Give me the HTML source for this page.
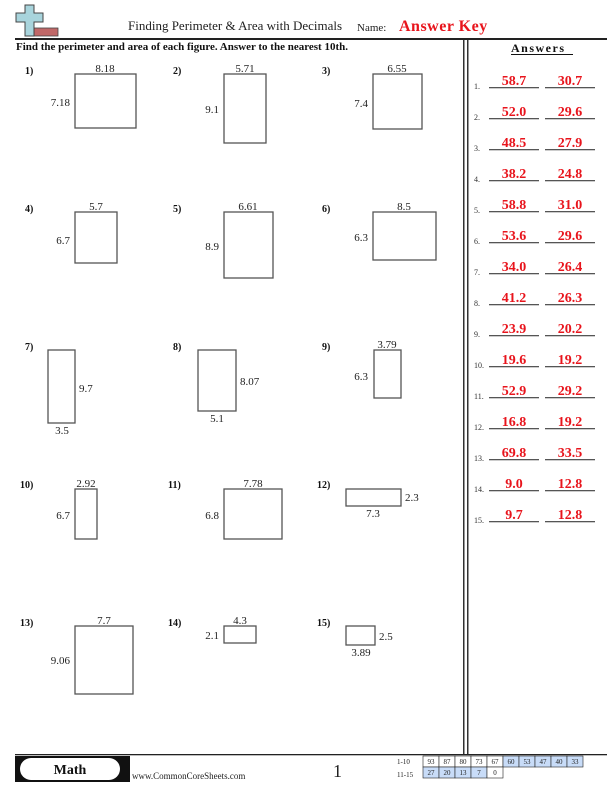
<!DOCTYPE html>
<html><head><meta charset="utf-8"><style>
body{margin:0;width:612px;height:792px;background:#fff;overflow:hidden}
svg{display:block}
text{font-family:"Liberation Serif",serif}
</style></head><body>
<svg width="612" height="792" viewBox="0 0 612 792" xmlns="http://www.w3.org/2000/svg">
<!-- logo -->
<rect x="32" y="28" width="26" height="8" fill="#c06868" stroke="#444" stroke-width="0.8"/>
<path d="M25 5 h9 v8 h9 v9 h-9 v14 h-9 v-14 h-9 v-9 h9z" fill="#a8d4dc" stroke="#444" stroke-width="1"/>
<text x="128" y="30" font-size="13" fill="#222">Finding Perimeter &amp; Area with Decimals</text>
<text x="357" y="31" font-size="11" fill="#222">Name:</text>
<text x="399" y="31" font-size="16" font-weight="bold" fill="#e8141c" letter-spacing="0.5">Answer Key</text>
<rect x="15" y="38" width="592" height="2" fill="#222"/>
<text x="16" y="50" font-size="11" font-weight="bold" fill="#111">Find the perimeter and area of each figure. Answer to the nearest 10th.</text>
<rect x="463" y="40" width="1.5" height="715" fill="#333"/>
<rect x="467" y="40" width="1.5" height="715" fill="#333"/>
<text x="511" y="52" font-size="12" font-weight="bold" fill="#111" letter-spacing="1.5">Answers</text>
<rect x="511" y="54" width="62" height="1" fill="#111"/>
<g font-size="10" font-weight="bold" fill="#111">
<text x="25" y="74">1)</text><text x="173" y="74">2)</text><text x="322" y="74">3)</text>
<text x="25" y="212">4)</text><text x="173" y="212">5)</text><text x="322" y="212">6)</text>
<text x="25" y="350">7)</text><text x="173" y="350">8)</text><text x="322" y="350">9)</text>
<text x="20" y="488">10)</text><text x="168" y="488">11)</text><text x="317" y="488">12)</text>
<text x="20" y="626">13)</text><text x="168" y="626">14)</text><text x="317" y="626">15)</text>
</g>
<g fill="none" stroke="#555" stroke-width="1.3">
<rect x="75" y="74" width="61" height="54"/>
<rect x="224" y="74" width="42" height="69"/>
<rect x="373" y="74" width="49" height="55"/>
<rect x="75" y="212" width="42" height="51"/>
<rect x="224" y="212" width="49" height="66"/>
<rect x="373" y="212" width="63" height="48"/>
<rect x="48" y="350" width="27" height="73"/>
<rect x="198" y="350" width="38" height="61"/>
<rect x="374" y="350" width="27" height="48"/>
<rect x="75" y="489" width="22" height="50"/>
<rect x="224" y="489" width="58" height="50"/>
<rect x="346" y="489" width="55" height="17"/>
<rect x="75" y="626" width="58" height="68"/>
<rect x="224" y="626" width="32" height="17"/>
<rect x="346" y="626" width="29" height="19"/>
</g>
<g font-size="11" fill="#222">
<g text-anchor="middle">
<text x="105" y="72">8.18</text><text x="245" y="72">5.71</text><text x="397" y="72">6.55</text>
<text x="96" y="210">5.7</text><text x="248" y="210">6.61</text><text x="404" y="210">8.5</text>
<text x="62" y="434">3.5</text><text x="217" y="422">5.1</text><text x="387" y="348">3.79</text>
<text x="86" y="487">2.92</text><text x="253" y="487">7.78</text><text x="373" y="517">7.3</text>
<text x="104" y="624">7.7</text><text x="240" y="624">4.3</text><text x="361" y="656">3.89</text>
</g>
<g text-anchor="end">
<text x="70" y="106">7.18</text><text x="219" y="113">9.1</text><text x="368" y="107">7.4</text>
<text x="70" y="244">6.7</text><text x="219" y="250">8.9</text><text x="368" y="241">6.3</text>
<text x="368" y="380">6.3</text>
<text x="70" y="519">6.7</text><text x="219" y="519">6.8</text>
<text x="70" y="664">9.06</text><text x="219" y="639">2.1</text>
</g>
<text x="79" y="392">9.7</text><text x="240" y="385">8.07</text>
<text x="405" y="501">2.3</text><text x="379" y="640">2.5</text>
</g>
<g font-size="8" fill="#333">
<text x="474" y="89">1.</text><text x="474" y="120">2.</text><text x="474" y="151">3.</text><text x="474" y="182">4.</text><text x="474" y="213">5.</text>
<text x="474" y="244">6.</text><text x="474" y="275">7.</text><text x="474" y="306">8.</text><text x="474" y="337">9.</text><text x="474" y="368">10.</text>
<text x="474" y="399">11.</text><text x="474" y="430">12.</text><text x="474" y="461">13.</text><text x="474" y="492">14.</text><text x="474" y="523">15.</text>
</g>
<g fill="#555">
<rect x="489" y="87" width="50" height="1.3"/><rect x="545" y="87" width="50" height="1.3"/>
<rect x="489" y="118" width="50" height="1.3"/><rect x="545" y="118" width="50" height="1.3"/>
<rect x="489" y="149" width="50" height="1.3"/><rect x="545" y="149" width="50" height="1.3"/>
<rect x="489" y="180" width="50" height="1.3"/><rect x="545" y="180" width="50" height="1.3"/>
<rect x="489" y="211" width="50" height="1.3"/><rect x="545" y="211" width="50" height="1.3"/>
<rect x="489" y="242" width="50" height="1.3"/><rect x="545" y="242" width="50" height="1.3"/>
<rect x="489" y="273" width="50" height="1.3"/><rect x="545" y="273" width="50" height="1.3"/>
<rect x="489" y="304" width="50" height="1.3"/><rect x="545" y="304" width="50" height="1.3"/>
<rect x="489" y="335" width="50" height="1.3"/><rect x="545" y="335" width="50" height="1.3"/>
<rect x="489" y="366" width="50" height="1.3"/><rect x="545" y="366" width="50" height="1.3"/>
<rect x="489" y="397" width="50" height="1.3"/><rect x="545" y="397" width="50" height="1.3"/>
<rect x="489" y="428" width="50" height="1.3"/><rect x="545" y="428" width="50" height="1.3"/>
<rect x="489" y="459" width="50" height="1.3"/><rect x="545" y="459" width="50" height="1.3"/>
<rect x="489" y="490" width="50" height="1.3"/><rect x="545" y="490" width="50" height="1.3"/>
<rect x="489" y="521" width="50" height="1.3"/><rect x="545" y="521" width="50" height="1.3"/>
</g>
<g font-size="14" font-weight="bold" fill="#e8141c" text-anchor="middle">
<text x="514" y="85">58.7</text><text x="570" y="85">30.7</text>
<text x="514" y="116">52.0</text><text x="570" y="116">29.6</text>
<text x="514" y="147">48.5</text><text x="570" y="147">27.9</text>
<text x="514" y="178">38.2</text><text x="570" y="178">24.8</text>
<text x="514" y="209">58.8</text><text x="570" y="209">31.0</text>
<text x="514" y="240">53.6</text><text x="570" y="240">29.6</text>
<text x="514" y="271">34.0</text><text x="570" y="271">26.4</text>
<text x="514" y="302">41.2</text><text x="570" y="302">26.3</text>
<text x="514" y="333">23.9</text><text x="570" y="333">20.2</text>
<text x="514" y="364">19.6</text><text x="570" y="364">19.2</text>
<text x="514" y="395">52.9</text><text x="570" y="395">29.2</text>
<text x="514" y="426">16.8</text><text x="570" y="426">19.2</text>
<text x="514" y="457">69.8</text><text x="570" y="457">33.5</text>
<text x="514" y="488">9.0</text><text x="570" y="488">12.8</text>
<text x="514" y="519">9.7</text><text x="570" y="519">12.8</text>
</g>
<!-- footer -->
<rect x="15" y="754" width="592" height="1.3" fill="#222"/>
<rect x="15" y="756" width="115" height="26" fill="#111"/>
<rect x="20" y="758" width="100" height="22" rx="11" fill="#fff"/>
<text x="70" y="774" font-size="14" font-weight="bold" text-anchor="middle" fill="#111">Math</text>
<text x="132" y="779" font-size="9" fill="#222">www.CommonCoreSheets.com</text>
<text x="333" y="777" font-size="18" fill="#222">1</text>
<g font-size="7" fill="#222">
<text x="397" y="764">1-10</text><text x="397" y="777">11-15</text>
</g>
<g stroke="#222" stroke-width="0.6" font-size="7">
<rect x="423" y="756" width="16" height="11" fill="#fff"/><rect x="439" y="756" width="16" height="11" fill="#fff"/><rect x="455" y="756" width="16" height="11" fill="#fff"/><rect x="471" y="756" width="16" height="11" fill="#fff"/><rect x="487" y="756" width="16" height="11" fill="#fff"/>
<rect x="503" y="756" width="16" height="11" fill="#c8dcf8"/><rect x="519" y="756" width="16" height="11" fill="#c8dcf8"/><rect x="535" y="756" width="16" height="11" fill="#c8dcf8"/><rect x="551" y="756" width="16" height="11" fill="#c8dcf8"/><rect x="567" y="756" width="16" height="11" fill="#c8dcf8"/>
<rect x="423" y="767" width="16" height="11" fill="#c8dcf8"/><rect x="439" y="767" width="16" height="11" fill="#c8dcf8"/><rect x="455" y="767" width="16" height="11" fill="#c8dcf8"/><rect x="471" y="767" width="16" height="11" fill="#c8dcf8"/><rect x="487" y="767" width="16" height="11" fill="#fff"/>
</g>
<g font-size="7" fill="#222" text-anchor="middle">
<text x="431" y="764">93</text><text x="447" y="764">87</text><text x="463" y="764">80</text><text x="479" y="764">73</text><text x="495" y="764">67</text>
<text x="511" y="764">60</text><text x="527" y="764">53</text><text x="543" y="764">47</text><text x="559" y="764">40</text><text x="575" y="764">33</text>
<text x="431" y="775">27</text><text x="447" y="775">20</text><text x="463" y="775">13</text><text x="479" y="775">7</text><text x="495" y="775">0</text>
</g>
</svg>
</body></html>
